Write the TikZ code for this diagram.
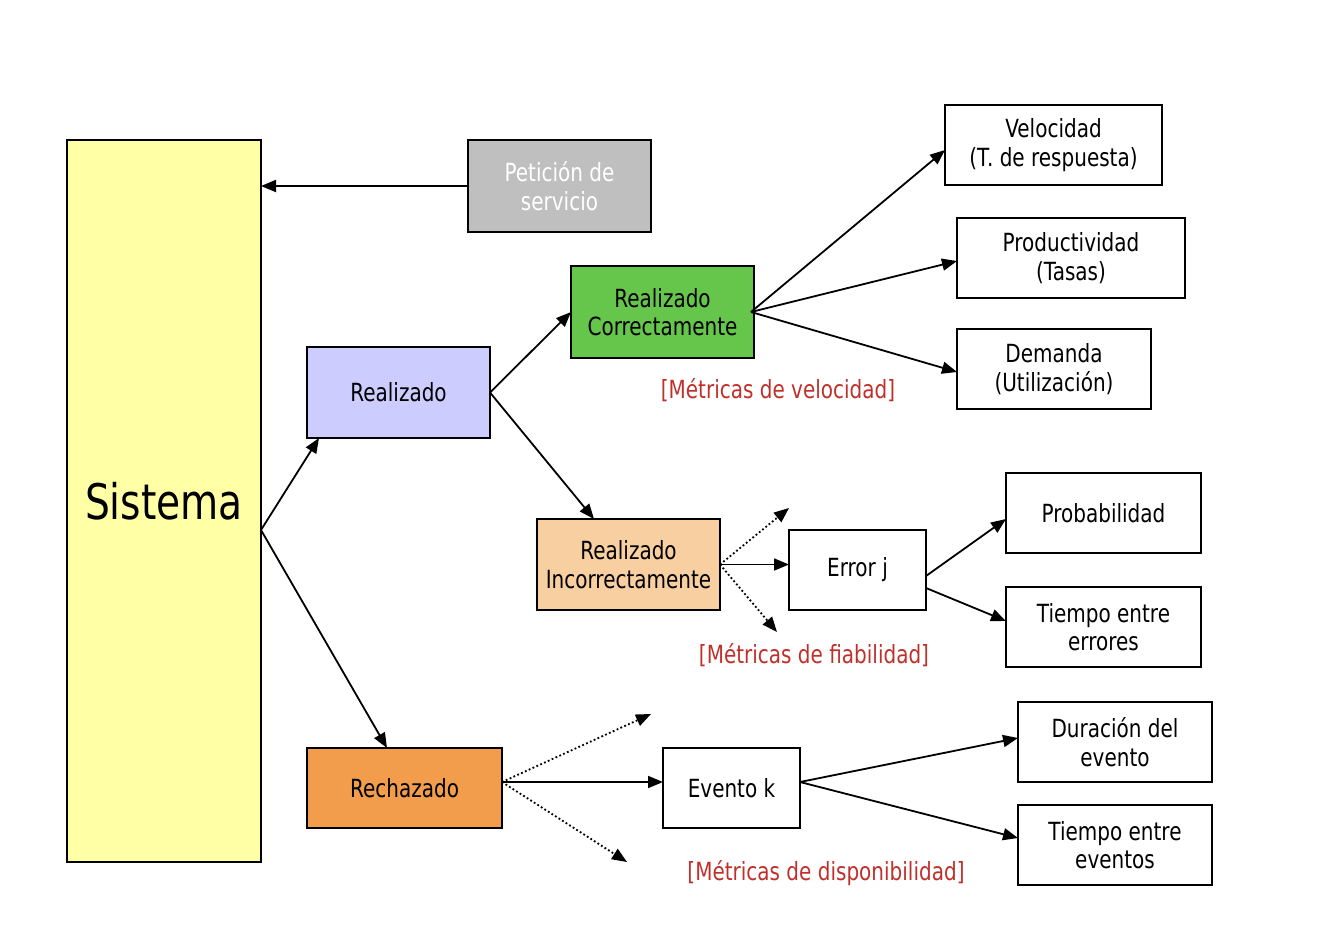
\documentclass[tikz,border=0pt]{standalone}
\usepackage{fontspec}
\setmainfont{DejaVu Sans}[FakeStretch=0.8]
\usetikzlibrary{arrows.meta}
\definecolor{sisfill}{HTML}{FFFFA6}
\definecolor{petfill}{HTML}{BFBFBF}
\definecolor{realfill}{HTML}{CCCCFF}
\definecolor{rcfill}{HTML}{66C64B}
\definecolor{rifill}{HTML}{F8CFA0}
\definecolor{rechfill}{HTML}{F29D4B}
\definecolor{metred}{HTML}{C0302B}
\tikzset{
  box/.style={draw=black, line width=1.4pt, inner sep=0pt, outer sep=0pt, align=center,
    font=\fontsize{25}{28.5}\selectfont},
  arr/.style={line width=1.8pt, -{Triangle[length=15pt,width=12pt]}},
  dotarr/.style={line width=1.8pt, dash pattern=on 1.8pt off 2.4pt, -{Triangle[length=15pt,width=12pt]}},
  metric/.style={text=metred, font=\fontsize{25}{28.5}\selectfont, inner sep=0pt}
}
\begin{document}
\begin{tikzpicture}[x=1pt,y=-1pt]
\useasboundingbox (0,0) rectangle (1328,942);
\node[box, fill=sisfill, minimum width=194pt, minimum height=722pt, font=\fontsize{49}{52}\selectfont] (sis) at (164,501) {Sistema};
\node[box, fill=petfill, text=white, minimum width=183pt, minimum height=92pt] (pet) at (559.5,186) {Petición de\\ servicio};
\node[box, fill=realfill, minimum width=183pt, minimum height=91pt] (real) at (398.5,392.5) {Realizado};
\node[box, fill=rcfill, minimum width=183pt, minimum height=92pt] (rc) at (662.5,312) {Realizado\\Correctamente};
\node[box, fill=rifill, minimum width=183pt, minimum height=91pt] (ri) at (628.5,564.5) {Realizado\\Incorrectamente};
\node[box, fill=rechfill, minimum width=195pt, minimum height=80pt] (rech) at (404.5,788) {Rechazado};
\node[box, minimum width=217pt, minimum height=80pt] (vel) at (1053.5,145) {Velocidad\\(T. de respuesta)};
\node[box, minimum width=228pt, minimum height=80pt] (prod) at (1071,258) {Productividad\\(Tasas)};
\node[box, minimum width=194pt, minimum height=80pt] (dem) at (1054,369) {Demanda\\(Utilización)};
\node[box, minimum width=137pt, minimum height=80pt] (err) at (857.5,570) {Error j};
\node[box, minimum width=195pt, minimum height=80pt] (prob) at (1103.5,513) {Probabilidad};
\node[box, minimum width=195pt, minimum height=80pt] (tee) at (1103.5,627) {Tiempo entre\\errores};
\node[box, minimum width=137pt, minimum height=80pt] (ev) at (731.5,788) {Evento k};
\node[box, minimum width=194pt, minimum height=80pt] (dur) at (1115,742) {Duración del\\evento};
\node[box, minimum width=194pt, minimum height=80pt] (tev) at (1115,845) {Tiempo entre\\eventos};
\node[metric] (m1) at (778,390) {[Métricas de velocidad]};
\node[metric] (m2) at (814,655) {[Métricas de fiabilidad]};
\node[metric] (m3) at (826,873) {[Métricas de disponibilidad]};
\coordinate (d1) at (789,508);
\coordinate (d2) at (777,632);
\coordinate (d3) at (651,714);
\coordinate (d4) at (627,862);
% connectors
\draw[arr] (pet.west) -- (sis.east |- pet.west);
\draw[arr] ([yshift=-29pt]sis.east) -- ([xshift=12pt]real.south west);
\draw[arr] ([yshift=-29pt]sis.east) -- ([xshift=-17.5pt]rech.north);
\draw[arr] (real.east) -- (rc.west);
\draw[arr] (real.east) -- ([xshift=-34.5pt]ri.north);
\draw[arr] ([xshift=-3pt]rc.east) -- ([yshift=-5pt]vel.west);
\draw[arr] ([xshift=-3pt]rc.east) -- ([yshift=-3pt]prod.west);
\draw[arr] ([xshift=-3pt]rc.east) -- ([yshift=-3pt]dem.west);
\draw[arr] (ri.east) -- (ri.east -| err.west);
\draw[dotarr] (ri.east) -- (d1);
\draw[dotarr] (ri.east) -- (d2);
\draw[arr] ([yshift=-6pt]err.east) -- ([yshift=-6pt]prob.west);
\draw[arr] ([yshift=-18pt]err.east) -- ([yshift=6pt]tee.west);
\draw[arr] ([yshift=6pt]rech.east) -- ([yshift=6pt]ev.west);
\draw[dotarr] ([yshift=6pt]rech.east) -- (d3);
\draw[dotarr] ([yshift=6pt]rech.east) -- (d4);
\draw[arr] ([yshift=6pt]ev.east) -- ([yshift=4pt]dur.west);
\draw[arr] ([yshift=6pt]ev.east) -- ([yshift=7pt]tev.west);
\end{tikzpicture}
\end{document}
